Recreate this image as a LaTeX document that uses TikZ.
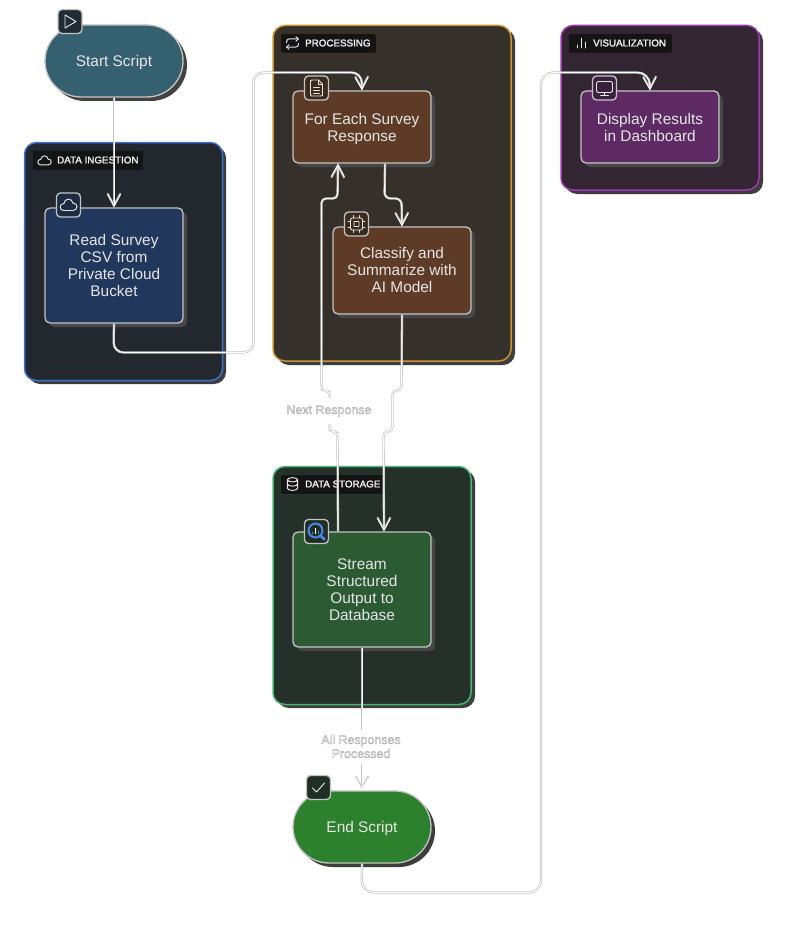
\documentclass[tikz,border=0pt]{standalone}
\usepackage{fontspec}
\setmainfont{Liberation Sans}
\usetikzlibrary{arrows.meta}
\newcommand{\outl}[2]{\special{pdf:code 2 Tr #1}#2\special{pdf:code 0 Tr 0.4 w}}
\newcommand{\nd}[1]{\setbox0\hbox{#1}\dp0=0pt\box0}
\definecolor{nodetxt}{HTML}{E6E6E6}
\definecolor{edgegray}{HTML}{C4C4C4}
\definecolor{bqblue}{HTML}{4A86E8}
\definecolor{clA}{HTML}{23282F}\definecolor{bdA}{HTML}{3F70C8}\definecolor{tgA}{HTML}{1D2B45}
\definecolor{clB}{HTML}{35312A}\definecolor{bdB}{HTML}{CB9233}\definecolor{tgB}{HTML}{4A3818}
\definecolor{clC}{HTML}{322633}\definecolor{bdC}{HTML}{A435B4}\definecolor{tgC}{HTML}{4A1F50}
\definecolor{clD}{HTML}{25302A}\definecolor{bdD}{HTML}{45B56E}\definecolor{tgD}{HTML}{1E4A2D}
\definecolor{fStart}{HTML}{35606F}\definecolor{fRead}{HTML}{22375C}\definecolor{fProc}{HTML}{5E3B26}
\definecolor{fDisp}{HTML}{5E2A64}\definecolor{fStream}{HTML}{2B5A33}\definecolor{fEnd}{HTML}{2D802D}
\definecolor{icA}{HTML}{1F2D33}\definecolor{icB}{HTML}{1C2A42}\definecolor{icC}{HTML}{3B2A1E}
\definecolor{icE}{HTML}{3A2140}\definecolor{icF}{HTML}{1F2F24}
\tikzset{
  x=1pt,y=-1pt,
  clusterbox/.style={line width=1.5pt,rounded corners=12pt},
  flow/.style={draw=#1,line width=1.3pt,rounded corners=5pt,anchor=center,inner sep=0pt,align=center,text=nodetxt,font=\fontsize{15.4}{17}\selectfont},
  iconbox/.style={draw=#1,line width=1.3pt,rounded corners=4pt,minimum width=24pt,minimum height=24pt,inner sep=0pt},
  tagbox/.style={rounded corners=2pt,line width=.6pt,anchor=north west,inner sep=0pt,fill=black!92!white,minimum height=20pt},
  tagtext/.style={text=white,anchor=west,inner sep=0pt,font=\fontsize{9.8}{12}\selectfont},
  edgelabel/.style={fill=white,inner sep=0pt,align=center,text=white,font=\fontsize{12.4}{14}\selectfont},
  edgeback/.style={draw=edgegray,line width=2.3pt,rounded corners=#1,xshift=-.5pt,yshift=.5pt},
  edgefront/.style={draw=white,line width=.9pt,rounded corners=#1,xshift=-.5pt,yshift=.5pt},
  barbback/.style={-{Straight Barb[length=12pt,width=13pt,line width=1.9pt]}},
  barbfront/.style={-{Straight Barb[length=12pt,width=13pt,line width=.8pt]}},
  ic/.style={draw=#1,line width=.95pt,line join=round,line cap=round,fill=none},
  playpic/.pic={\draw[ic=nodetxt] (-5,-6.5)--(6,0)--(-5,6.5)--cycle;},
  cloudpic/.pic={\draw[ic=nodetxt] (-5,5.5)--(4.5,5.5) .. controls (9.5,5.5) and (10,-2) .. (4.5,-1.8) .. controls (3.5,-7.5) and (-4,-7) .. (-4.6,-1.5) .. controls (-9.5,-1.5) and (-9.5,5.5) .. (-5,5.5);},
  filepic/.pic={\draw[ic=nodetxt] (2,-8)--(-4.5,-8) .. controls (-6,-8) and (-6,-7) .. (-6,-6.5)--(-6,6.5) .. controls (-6,8) and (-5,8) .. (-4.5,8)--(4.5,8) .. controls (6,8) and (6,7) .. (6,6.5)--(6,-4)--cycle;
    \draw[ic=nodetxt] (2,-8)--(2,-4)--(6,-4) (-3,-1)--(3,-1) (-3,2)--(3,2) (-3,5)--(3,5);},
  chippic/.pic={\draw[ic=nodetxt,rounded corners=1.5pt] (-6,-6) rectangle (6,6);
    \draw[ic=nodetxt,rounded corners=.5pt] (-2.5,-2.5) rectangle (2.5,2.5);
    \draw[ic=nodetxt] (-3,-6)--(-3,-8.5) (3,-6)--(3,-8.5) (-3,6)--(-3,8.5) (3,6)--(3,8.5) (-6,-3)--(-8.5,-3) (-6,3)--(-8.5,3) (6,-3)--(8.5,-3) (6,3)--(8.5,3);},
  monitorpic/.pic={\draw[ic=nodetxt,rounded corners=2pt] (-8,-6.5) rectangle (8,4.5);
    \draw[ic=nodetxt] (0,4.5)--(0,7.5) (-4,7.5)--(4,7.5);},
  barspic/.pic={\draw[ic=nodetxt] (-4,5)--(-4,2) (0,5)--(0,-5) (4,5)--(4,-1);},
  repeatpic/.pic={\draw[ic=nodetxt,rounded corners=2.5pt] (-6.5,-.5)--(-6.5,-4.5)--(6.5,-4.5);
    \draw[ic=nodetxt] (3.8,-7)--(6.5,-4.5)--(3.8,-2);
    \draw[ic=nodetxt,rounded corners=2.5pt] (6.5,.5)--(6.5,4.5)--(-6.5,4.5);
    \draw[ic=nodetxt] (-3.8,2)--(-6.5,4.5)--(-3.8,7);},
  dbpic/.pic={\draw[ic=nodetxt] (0,-5) ellipse [x radius=6,y radius=2.5];
    \draw[ic=nodetxt] (-6,-5)--(-6,5) .. controls (-6,8.3) and (6,8.3) .. (6,5)--(6,-5);
    \draw[ic=nodetxt] (-6,0) .. controls (-6,3.3) and (6,3.3) .. (6,0);},
  checkpic/.pic={\draw[ic=nodetxt] (-6,0.5)--(-2,4.5)--(6,-4.5);},
  bqpic/.pic={\draw[draw=bqblue,line width=2pt] (-1,-1) circle [radius=7];
    \draw[draw=bqblue,line width=2.6pt,line cap=round] (4.5,4.5)--(8,8);
    \draw[draw=bqblue,line width=1.3pt] (-3.8,0)--(-3.8,2);
    \draw[draw=white,line width=1.3pt] (-1,-3.5)--(-1,2);
    \draw[draw=bqblue,line width=1.3pt] (1.8,-1)--(1.8,2);},
}
\begin{document}
\begin{tikzpicture}
\useasboundingbox[fill=white] (0,0) rectangle (784,931);

% clusters
\fill[black!76,rounded corners=12pt] (28,146) rectangle (226,384);
\fill[black!76,rounded corners=12pt] (277,29) rectangle (515,365);
\fill[black!76,rounded corners=12pt] (565,29) rectangle (763,194);
\fill[black!76,rounded corners=12pt] (277,470) rectangle (475,708);
\draw[clusterbox,fill=clA,draw=bdA] (24.5,142.5) rectangle (222.5,380.5);
\draw[clusterbox,fill=clB,draw=bdB] (273,25.5) rectangle (511,361);
\draw[clusterbox,fill=clC,draw=bdC] (561,25.5) rectangle (759,190);
\draw[clusterbox,fill=clD,draw=bdD] (273,466.5) rectangle (471,704.5);

% cluster tags
\node[tagbox,draw=tgA,minimum width=111pt] (tagA) at (32,150) {};
\node[tagbox,draw=tgB,minimum width=96pt] (tagB) at (280,33) {};
\node[tagbox,draw=tgC,minimum width=104pt] (tagC) at (568,33) {};
\node[tagbox,draw=tgD,minimum width=104pt] (tagD) at (280,474) {};
\node[tagtext] (tA) at (57,160) {\outl{0.2 w 0.9 G}{DATA INGESTION}};
\node[tagtext] (tB) at (305,43) {\outl{0.2 w 0.9 G}{PROCESSING}};
\node[tagtext] (tC) at (593,43) {\outl{0.2 w 0.9 G}{VISUALIZATION}};
\node[tagtext] (tD) at (305,484) {\outl{0.2 w 0.9 G}{DATA STORAGE}};
\pic[scale=.8] at (44.5,160.5) {cloudpic};
\pic[scale=.9] at (292.5,43) {repeatpic};
\pic at (581,43) {barspic};
\pic[scale=.85] at (292.5,484) {dbpic};

% node shadows
\fill[black!74,rounded corners=36pt] (49,29) rectangle (187,101);
\fill[black!72,rounded corners=5pt] (49,212) rectangle (187,327);
\fill[black!72,rounded corners=5pt] (297,95) rectangle (435,167);
\fill[black!72,rounded corners=5pt] (337,231) rectangle (475,318);
\fill[black!72,rounded corners=5pt] (585,95) rectangle (723,167);
\fill[black!72,rounded corners=5pt] (297,536) rectangle (435,651);
\fill[black!76,rounded corners=36pt] (297,795) rectangle (435,867);

% nodes
\node[flow=edgegray,fill=fStart,rounded corners=36pt,minimum width=138pt,minimum height=72pt] (start) at (114,61) {\nd{Start Script}};
\node[flow=edgegray,fill=fRead,minimum width=138pt,minimum height=115pt] (read) at (114,265.5) {Read Survey\\CSV from\\Private Cloud\\Bucket};
\node[flow=edgegray,fill=fProc,minimum width=138pt,minimum height=72pt] (each) at (362,127) {For Each Survey\\\nd{Response}};
\node[flow=edgegray,fill=fProc,minimum width=138pt,minimum height=87pt] (classify) at (402,270.5) {\raisebox{1pt}{Classify and}\\\raisebox{1pt}{Summarize with}\\\raisebox{1pt}{AI Model}};
\node[flow=edgegray,fill=fDisp,minimum width=138pt,minimum height=72pt] (display) at (650,127) {Display Results\\in Dashboard};
\node[flow=edgegray,fill=fStream,minimum width=138pt,minimum height=115pt] (stream) at (362,589.5) {Stream\\Structured\\Output to\\Database};
\node[flow=edgegray,fill=fEnd,rounded corners=36pt,minimum width=138pt,minimum height=72pt] (finish) at (362,827) {\nd{End Script}};

% connectors
\foreach \sty/\tip in {edgeback/barbback,edgefront/barbfront}{
  \draw[\sty=0pt,\tip] (start.south) -- (read.north);
  \draw[\sty=10pt,\tip] (read.south) -- (114,353) -- (254,353) -- (254,73) -- (362,73) -- (each.north);
  \draw[\sty=6pt,\tip] ([xshift=23pt]each.south) -- (385,199) -- (402,199) -- (classify.north);
  \draw[\sty=4.5pt,\tip] (classify.south) -- (402,391) -- (393,391) -- (393,432) -- (384,432) -- ([xshift=22pt]stream.north);
  \draw[\sty=4.5pt,\tip] ([xshift=-24pt]stream.north) -- (338,432) -- (330,432) -- (330,391) -- (322,391) -- (322,199) -- (338,199) -- ([xshift=-24pt]each.south);
  \draw[\sty=0pt,\tip] (stream.south) -- (finish.north);
  \draw[\sty=12pt,\tip] (finish.south) -- (362,893) -- (541.5,893) -- (541.5,73) -- (650,73) -- (display.north);
}

% icons
\node[iconbox=edgegray,fill=icA] (iconA) at (70,21.5) {};
\node[iconbox=edgegray,fill=icB] (iconB) at (68.5,205) {};
\node[iconbox=edgegray,fill=icC] (iconC) at (316.5,88) {};
\node[iconbox=edgegray,fill=icC] (iconD) at (356.5,224) {};
\node[iconbox=edgegray,fill=icE] (iconE) at (604.5,88) {};
\node[iconbox=edgegray,fill=icF] (iconF) at (316.5,531.5) {};
\node[iconbox=edgegray,fill=icF] (iconG) at (318.5,787.5) {};
\pic at (iconA) {playpic};
\pic at (iconB) {cloudpic};
\pic at (iconC) {filepic};
\pic at (iconD) {chippic};
\pic at (iconE) {monitorpic};
\pic at (iconF) {bqpic};
\pic at (iconG) {checkpic};

% edge labels
\node[edgelabel,minimum width=90pt,minimum height=26pt] (lblA) at (329,411) {\outl{0.45 w 0.7 G}{Next Response}};
\node[edgelabel,minimum width=90pt,minimum height=34pt] (lblB) at (361,746.5) {\outl{0.45 w 0.7 G}{All Responses}\\\outl{0.45 w 0.7 G}{Processed}};
\end{tikzpicture}
\end{document}
